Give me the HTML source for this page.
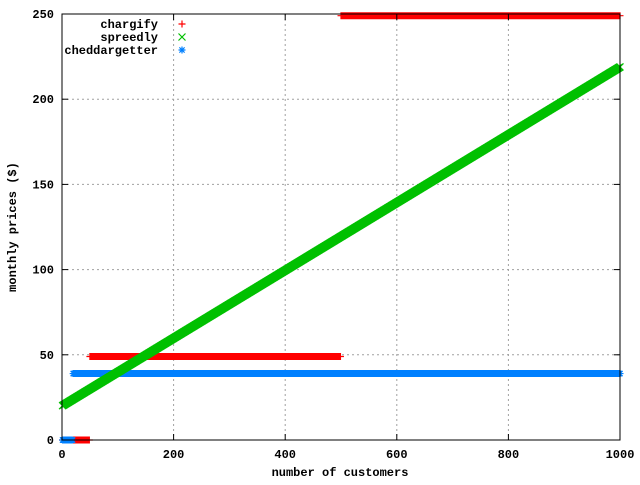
<!DOCTYPE html>
<html><head><meta charset="utf-8"><style>
body{margin:0;background:#fff;width:640px;height:480px;overflow:hidden}
text{font-family:"Liberation Mono",monospace;font-weight:bold;font-size:12px;fill:#000}
</style></head><body>
<svg id="chart" width="640" height="480" xmlns="http://www.w3.org/2000/svg">
<g id="grid"></g>
<g id="series"></g>
<rect x="62" y="14" width="558" height="426" fill="none" stroke="#000" stroke-width="1"/>
<g id="axes"></g>
<text x="340" y="476" text-anchor="middle">number of customers</text>
<text transform="translate(16,227) rotate(-90)" text-anchor="middle">monthly prices ($)</text>
<g id="legend"></g>
</svg>
<script>
const xTicks=[0,200,400,600,800,1000];
const yTicks=[0,50,100,150,200,250];
const chargifyBreaks=[0,50,500];
const chargifyPrices=[0,49,249];
const cheddarBreaks=[0,20];
const cheddarPrices=[0,39];
const spreedlyBase=[19.95];
const spreedlyPerCustomer=[0.199];
const maxCustomers=[1000];
const NS="http://www.w3.org/2000/svg";
const X=v=>62+v*558/1000, Y=v=>440-v*426/250;
function el(t,a,p){const e=document.createElementNS(NS,t);for(const k in a)e.setAttribute(k,a[k]);p.appendChild(e);return e;}
const grid=document.getElementById('grid'),axes=document.getElementById('axes'),ser=document.getElementById('series'),leg=document.getElementById('legend');
xTicks.forEach(v=>{
 if(v>0&&v<1000){const g=el('line',{x1:X(v),x2:X(v),y1:14,y2:440,stroke:'#a0a0a0','stroke-dasharray':'2,3'},grid);
 }
 const t=el('line',{x1:X(v),x2:X(v),y1:440,y2:434,stroke:'#000'},axes);
 
 el('line',{x1:X(v),x2:X(v),y1:14,y2:20,stroke:'#000'},axes);
 const l=el('text',{x:X(v),y:458,'text-anchor':'middle'},axes);l.textContent=v;
 
});
yTicks.forEach(v=>{
 if(v>0&&v<250){const g=el('line',{x1:62,x2:620,y1:Y(v),y2:Y(v),stroke:'#a0a0a0','stroke-dasharray':'2,3'},grid);
 }
 const t=el('line',{x1:62,x2:68,y1:Y(v),y2:Y(v),stroke:'#000'},axes);
 
 el('line',{x1:614,x2:620,y1:Y(v),y2:Y(v),stroke:'#000'},axes);
 const l=el('text',{x:54,y:Y(v)+4,'text-anchor':'end'},axes);l.textContent=v;
 
});
function tier(br,pr,n){let p=0;for(let i=0;i<br.length;i++)if(n>=br[i])p=pr[i];return p;}
function plus(x,y,s){return `M${x-s},${y}h${2*s}M${x},${y-s}v${2*s}`;}
function cross(x,y,s){return `M${x-s},${y-s}l${2*s},${2*s}M${x-s},${y+s}l${2*s},${-2*s}`;}
function star(x,y,s){return plus(x,y,s)+cross(x,y,s*0.75);}
let dC='',dS='',dH='';
for(let n=1;n<=maxCustomers[0];n++){
 dH+=star(X(n),Y(tier(cheddarBreaks,cheddarPrices,n)),3.5);
 dS+=cross(X(n),Y(spreedlyBase[0]+spreedlyPerCustomer[0]*n),3.5);
 dC+=plus(X(n),Y(tier(chargifyBreaks,chargifyPrices,n)),3.5);
}
const pC=el('path',{d:dC,stroke:'#ff0000','stroke-width':1.2,fill:'none'},ser);

const pH=el('path',{d:dH,stroke:'#0080ff','stroke-width':1.2,fill:'none'},ser);

const pS=el('path',{d:dS,stroke:'#00c000','stroke-width':1.2,fill:'none'},ser);

const names=['chargify','spreedly','cheddargetter'],cols=['#ff0000','#00c000','#0080ff'],mk=[plus,cross,star];
names.forEach((nm,i)=>{const y=24+i*13;
 const t=el('text',{x:158,y:y+4,'text-anchor':'end'},leg);t.textContent=nm;
 
 const m=el('path',{d:mk[i](182,y,3.5),stroke:cols[i],'stroke-width':1.2,fill:'none'},leg);
 
});
</script>
</body></html>
